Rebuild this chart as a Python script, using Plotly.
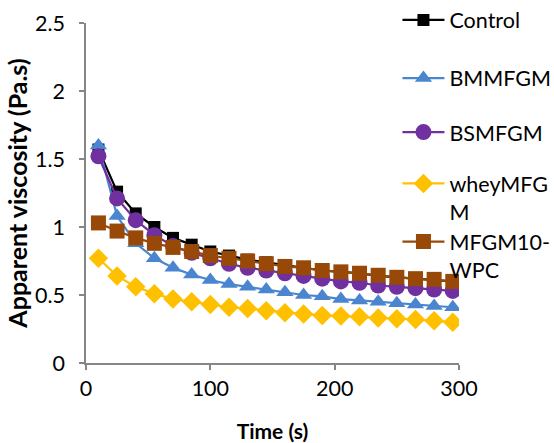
import plotly.graph_objects as go

time_s = [10, 25, 40, 55, 70, 85, 100, 115, 130, 145, 160, 175, 190, 205, 220, 235, 250, 265, 280, 295]
control = [1.57, 1.26, 1.10, 1.00, 0.92, 0.87, 0.82, 0.79, 0.76, 0.74, 0.72, 0.70, 0.68, 0.67, 0.66, 0.64, 0.63, 0.62, 0.61, 0.60]
bmmfgm = [1.60, 1.08, 0.88, 0.77, 0.70, 0.65, 0.61, 0.58, 0.56, 0.54, 0.52, 0.50, 0.49, 0.47, 0.46, 0.45, 0.44, 0.43, 0.42, 0.41]
bsmfgm = [1.52, 1.21, 1.05, 0.94, 0.86, 0.81, 0.77, 0.73, 0.70, 0.68, 0.66, 0.64, 0.62, 0.60, 0.59, 0.57, 0.56, 0.55, 0.54, 0.53]
wheymfgm = [0.77, 0.64, 0.56, 0.51, 0.47, 0.45, 0.43, 0.41, 0.40, 0.385, 0.37, 0.36, 0.35, 0.345, 0.34, 0.33, 0.325, 0.32, 0.31, 0.30]
mfgm10wpc = [1.03, 0.97, 0.92, 0.88, 0.85, 0.82, 0.79, 0.77, 0.75, 0.73, 0.71, 0.70, 0.68, 0.67, 0.66, 0.645, 0.63, 0.62, 0.615, 0.60]

series = [
    ("Control", control, "#000000", "square", 12, "legend"),
    ("BMMFGM", bmmfgm, "#4A86CF", "triangle-up", 15, "legend2"),
    ("BSMFGM", bsmfgm, "#7030A0", "circle", 16, "legend3"),
    ("wheyMFG<br>M", wheymfgm, "#FFC000", "diamond", 15, "legend4"),
    ("MFGM10-<br>WPC", mfgm10wpc, "#984807", "square", 15, "legend5"),
]

fig = go.Figure()
for name, vals, color, sym, size, lg in series:
    fig.add_trace(go.Scatter(
        x=time_s, y=vals, name=name, mode="lines+markers",
        line=dict(color=color, width=2.2),
        marker=dict(symbol=sym, size=size, color=color),
        legend=lg,
    ))

font_family = "Lato, Carlito, Calibri, sans-serif"
leg_common = dict(x=0.835, xanchor="left", yanchor="middle", valign="top",
                  bgcolor="rgba(0,0,0,0)", font=dict(family=font_family, size=21.5, color="#000"),
                  itemwidth=42, borderwidth=0, visible=True)
leg_y = [1.009, 0.838, 0.679, 0.487, 0.316]
layout_legends = {}
for i, yv in enumerate(leg_y):
    key = "legend" if i == 0 else f"legend{i+1}"
    layout_legends[key] = dict(leg_common, y=yv)

fig.update_layout(
    width=554, height=443,
    showlegend=True,
    margin=dict(l=86, r=95, t=23, b=80, autoexpand=False),
    plot_bgcolor="white", paper_bgcolor="white",
    font=dict(family=font_family, size=21.5, color="#000"),
    xaxis=dict(range=[0, 300], dtick=100, showgrid=False, zeroline=False,
               showline=True, linecolor="#868686", linewidth=1.5,
               ticks="outside", ticklen=5, tickcolor="#868686", tickwidth=1.5,
               title=dict(text="<b>Time (s)</b>", font=dict(size=21), standoff=25)),
    yaxis=dict(range=[0, 2.5], dtick=0.5, showgrid=False, zeroline=False,
               showline=True, linecolor="#868686", linewidth=1.5,
               ticks="outside", ticklen=5, tickcolor="#868686", tickwidth=1.5,
               ticklabelstandoff=10,
               title=dict(text="<b>Apparent viscosity (Pa.s)</b>", font=dict(size=25), standoff=0)),
    **layout_legends,
)

fig.write_html("out.html", config={"displayModeBar": False},
               post_script="document.body.style.margin='0';")
